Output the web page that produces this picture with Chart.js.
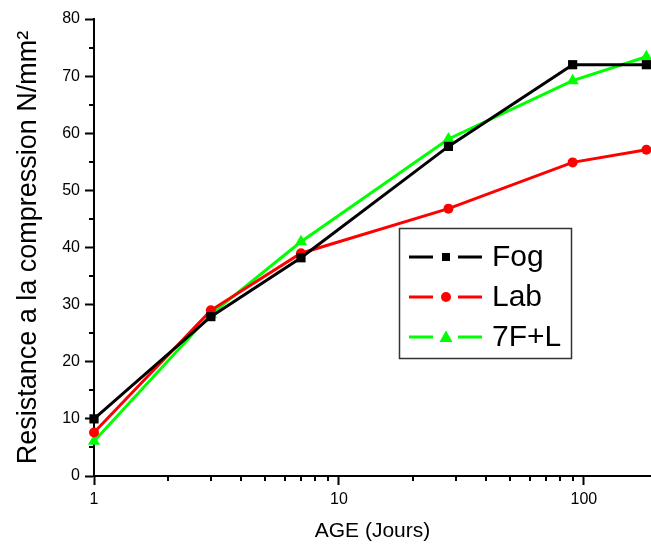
<!DOCTYPE html>
<html>
<head>
<meta charset="utf-8">
<script src="https://cdn.jsdelivr.net/npm/chart.js@4.4.0/dist/chart.umd.min.js"></script>
<style>
  body { margin: 0; background: #fff; }
  #wrap { width: 651px; height: 544px; }
</style>
</head>
<body>
<div id="wrap"><canvas id="myChart"></canvas></div>
<script>
// ages in days, strength in N/mm2
const ages = [1, 3, 7, 28, 90, 180];
const fog = [10, 27.9, 38.2, 57.7, 72, 72];
const lab = [7.6, 29, 39, 46.8, 54.9, 57.1];
const f7l = [6.1, 28.3, 41, 59, 69.2, 73.4];
const seriesNames = ["Fog", "Lab", "7F+L"];
const xTickLabels = [1, 10, 100];
const xMinorTicks = [2, 3, 4, 5, 6, 7, 8, 9, 20, 30, 40, 50, 60, 70, 80, 90];
const yMinorTicks = [5, 15, 25, 35, 45, 55, 65, 75];

const colors = ["#000000", "#ff0000", "#00ff00"];
const markers = ["rect", "circle", "triangle"];
const markerSizes = [6.5, 5, 7];
const font = "'Liberation Sans', Arial, sans-serif";

function pts(vals) {
    return ages.map((a, i) => ({x: a, y: vals[i]}));
}

const datasets = [fog, lab, f7l].map((vals, i) => ({
    label: seriesNames[i],
    data: pts(vals),
    borderColor: colors[i],
    backgroundColor: colors[i],
    borderWidth: 3,
    pointStyle: markers[i],
    pointRadius: markerSizes[i],
    pointBorderWidth: 0,
    pointBackgroundColor: colors[i],
    clip: false
}));

// minor ticks + legend box
const extras = {
    id: 'extras',
    afterDraw(chart) {
        const ctx = chart.ctx;
        const xs = chart.scales.x, ys = chart.scales.y;
        ctx.save();
        ctx.strokeStyle = '#000';
        ctx.lineWidth = 2;
        ctx.beginPath();
        yMinorTicks.forEach(v => {
            const y = Math.round(ys.getPixelForValue(v));
            ctx.moveTo(ys.right, y);
            ctx.lineTo(ys.right - 5, y);
        });
        xMinorTicks.forEach(v => {
            const x = Math.round(xs.getPixelForValue(v));
            ctx.moveTo(x, xs.top);
            ctx.lineTo(x, xs.top + 5);
        });
        ctx.stroke();

        // legend
        ctx.strokeStyle = '#333';
        ctx.lineWidth = 1.5;
        ctx.strokeRect(399.5, 228.5, 172, 130);
        const rows = [257, 297, 337];
        seriesNames.forEach((name, i) => {
            const y = rows[i];
            ctx.strokeStyle = colors[i];
            ctx.fillStyle = colors[i];
            ctx.lineWidth = 3;
            ctx.beginPath();
            ctx.moveTo(409, y); ctx.lineTo(433, y);
            ctx.moveTo(458, y); ctx.lineTo(482, y);
            ctx.stroke();
            ctx.beginPath();
            if (markers[i] === 'rect') {
                ctx.rect(442, y - 4, 8, 8);
            } else if (markers[i] === 'circle') {
                ctx.arc(446, y, 5, 0, Math.PI * 2);
            } else {
                ctx.moveTo(446, y - 6.5);
                ctx.lineTo(452.5, y + 5);
                ctx.lineTo(439.5, y + 5);
                ctx.closePath();
            }
            ctx.fill();
            ctx.fillStyle = '#000';
            ctx.font = '30px ' + font;
            ctx.textBaseline = 'middle';
            ctx.textAlign = 'left';
            ctx.fillText(name, 492, y + 1);
        });
        ctx.restore();
    }
};

new Chart("myChart", {
    type: "line",
    data: { datasets: datasets },
    options: {
        responsive: true,
        maintainAspectRatio: false,
        animation: false,
        layout: { autoPadding: false, padding: { top: 19, right: 0, left: 0, bottom: 0 } },
        plugins: {
            legend: { display: false },
            tooltip: { enabled: false }
        },
        scales: {
            x: {
                type: 'logarithmic',
                min: 1,
                max: 188,
                afterBuildTicks: s => { s.ticks = xTickLabels.map(v => ({value: v})); },
                afterFit: s => { s.height = 68; },
                grid: { drawOnChartArea: false, tickLength: 9, tickWidth: 2, tickColor: '#000' },
                border: { color: '#000', width: 2 },
                ticks: {
                    color: '#000',
                    padding: 5,
                    maxRotation: 0,
                    font: { family: font, size: 16 },
                    callback: v => String(v)
                },
                title: {
                    display: true,
                    text: 'AGE (Jours)',
                    color: '#000',
                    font: { family: font, size: 21 },
                    padding: { top: 0, bottom: 0 }
                }
            },
            y: {
                min: 0,
                max: 80,
                afterFit: s => { s.width = 94; },
                grid: { drawOnChartArea: false, tickLength: 9, tickWidth: 2, tickColor: '#000' },
                border: { color: '#000', width: 2 },
                ticks: {
                    stepSize: 10,
                    color: '#000',
                    padding: 5,
                    font: { family: font, size: 16 }
                },
                title: {
                    display: true,
                    text: 'Resistance a la compression N/mm²',
                    color: '#000',
                    font: { family: font, size: 27 },
                    padding: { top: 12, bottom: 0 }
                }
            }
        }
    },
    plugins: [extras]
});
</script>
</body>
</html>
